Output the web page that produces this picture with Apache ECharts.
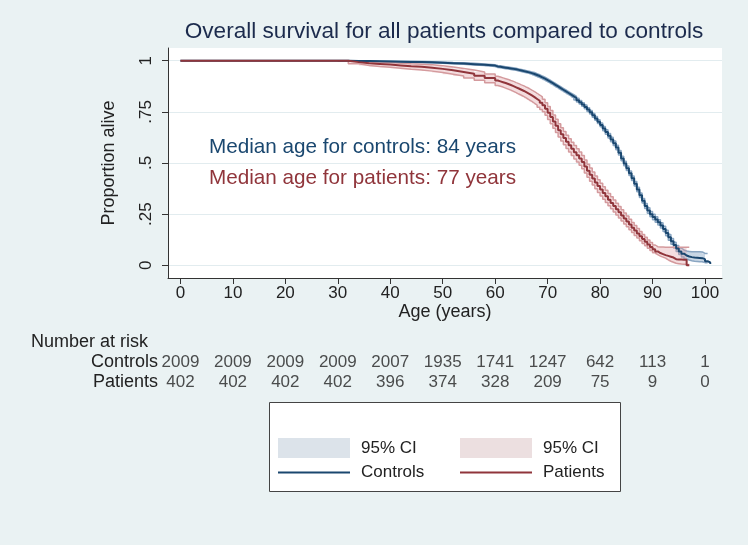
<!DOCTYPE html>
<html>
<head>
<meta charset="utf-8">
<script src="https://cdn.jsdelivr.net/npm/echarts@6/dist/echarts.min.js"></script>
<style>
html,body{margin:0;padding:0;background:#eaf2f3;}
#chart{width:748px;height:545px;}
</style>
</head>
<body>
<div id="chart"></div>
<script>
// ---------------- data ----------------
const ages = [0,30,32,34,36,38,40,42,44,46,48,50,52,54,56,58,
  60,60.5,61,61.5,62,62.5,63,63.5,64,64.5,65,65.5,66,66.5,67,67.5,68,68.5,69,69.5,
  70,70.5,71,71.5,72,72.5,73,73.5,74,74.5,75,75.5,76,76.5,77,77.5,78,78.5,79,79.5,
  80,80.5,81,81.5,82,82.5,83,83.5,84,84.5,85,85.5,86,86.5,87,87.5,88,88.5,89,89.5,
  90,90.5,91,91.5,92,92.5,93,93.5,94,94.5,95,95.5,96,96.5,97,97.5,98,98.5,99,99.5,
  100,100.5,101];

const controlsSurv = [1,1,0.999,0.998,0.997,0.996,0.995,0.994,0.993,0.992,0.990,0.988,0.986,0.983,0.980,0.976,
  0.972,0.970,0.968,0.966,0.964,0.962,0.960,0.958,0.955,0.952,0.949,0.946,0.943,0.939,0.935,0.930,0.925,0.918,0.912,0.905,
  0.898,0.890,0.882,0.874,0.866,0.858,0.850,0.842,0.834,0.826,0.817,0.807,0.797,0.786,0.774,0.761,0.748,0.733,0.718,0.702,
  0.686,0.668,0.651,0.633,0.615,0.596,0.576,0.550,0.522,0.497,0.474,0.450,0.425,0.398,0.371,0.343,0.315,0.290,0.268,0.250,
  0.236,0.224,0.210,0.195,0.178,0.158,0.137,0.117,0.099,0.082,0.068,0.057,0.048,0.043,0.040,0.038,0.037,0.036,0.035,0.030,
  0.020,0.014,0.006];
const controlsLow = [null,1,0.998,0.996,0.995,0.994,0.993,0.991,0.990,0.989,0.987,0.985,0.982,0.979,0.976,0.972,
  0.967,0.965,0.963,0.961,0.959,0.957,0.955,0.953,0.950,0.947,0.944,0.941,0.938,0.933,0.928,0.923,0.918,0.911,0.905,0.898,
  0.891,0.883,0.875,0.867,0.859,0.851,0.843,0.835,0.827,0.818,0.808,0.798,0.788,0.777,0.765,0.752,0.739,0.724,0.709,0.693,
  0.677,0.658,0.640,0.622,0.604,0.585,0.565,0.539,0.511,0.486,0.463,0.439,0.414,0.387,0.360,0.332,0.304,0.278,0.255,0.237,
  0.223,0.211,0.197,0.182,0.165,0.145,0.123,0.103,0.085,0.068,0.053,0.041,0.031,0.026,0.022,0.020,0.019,0.018,0.017,0.013,
  0.013,null,null];
const controlsHigh = [null,1,1.000,1.000,0.999,0.998,0.997,0.997,0.996,0.995,0.993,0.991,0.990,0.987,0.984,0.980,
  0.977,0.975,0.973,0.971,0.969,0.967,0.965,0.963,0.960,0.957,0.954,0.951,0.948,0.945,0.942,0.937,0.932,0.925,0.919,0.912,
  0.905,0.897,0.889,0.881,0.873,0.865,0.857,0.849,0.841,0.834,0.826,0.816,0.806,0.795,0.783,0.770,0.757,0.742,0.727,0.711,
  0.695,0.678,0.662,0.644,0.626,0.607,0.587,0.561,0.533,0.508,0.485,0.461,0.436,0.409,0.382,0.354,0.326,0.302,0.281,0.263,
  0.249,0.237,0.223,0.208,0.191,0.171,0.151,0.131,0.113,0.097,0.084,0.075,0.070,0.068,0.066,0.066,0.066,0.066,0.065,0.058,
  0.058,null,null];

const patientsSurv = [1,1,0.993,0.987,0.984,0.981,0.977,0.973,0.970,0.966,0.960,0.953,0.945,0.936,0.926,0.915,
  0.903,0.899,0.895,0.891,0.886,0.881,0.876,0.870,0.864,0.858,0.852,0.845,0.838,0.830,0.822,0.813,0.804,0.794,0.782,0.765,
  0.745,0.725,0.703,0.682,0.660,0.640,0.622,0.604,0.587,0.570,0.553,0.538,0.522,0.505,0.483,0.462,0.443,0.424,0.405,0.387,
  0.370,0.353,0.337,0.321,0.305,0.290,0.274,0.259,0.244,0.229,0.214,0.199,0.184,0.170,0.156,0.142,0.128,0.115,0.102,0.090,
  0.078,0.068,0.060,0.055,0.050,0.046,0.042,0.038,0.030,0.029,0.028,0.027,0.027,0.000,null,null,null,null,null,null,
  null,null,null];
const patientsLow = [null,1,0.985,0.977,0.972,0.968,0.963,0.958,0.954,0.949,0.942,0.934,0.925,0.915,0.904,0.892,
  0.879,0.875,0.871,0.866,0.861,0.856,0.850,0.844,0.837,0.831,0.824,0.817,0.809,0.801,0.792,0.783,0.773,0.762,0.750,0.733,
  0.712,0.692,0.670,0.649,0.627,0.607,0.589,0.571,0.554,0.537,0.520,0.505,0.489,0.472,0.451,0.430,0.411,0.392,0.374,0.356,
  0.339,0.323,0.307,0.291,0.276,0.261,0.246,0.231,0.217,0.202,0.188,0.174,0.160,0.146,0.133,0.120,0.107,0.095,0.083,0.072,
  0.061,0.052,0.045,0.040,0.035,0.027,0.020,0.015,0.010,0.008,0.006,0.005,0.004,0.004,null,null,null,null,null,null,
  null,null,null];
const patientsHigh = [null,1,1.000,0.995,0.993,0.991,0.988,0.985,0.983,0.980,0.975,0.969,0.962,0.954,0.945,0.935,
  0.924,0.920,0.916,0.912,0.908,0.903,0.899,0.893,0.888,0.882,0.877,0.870,0.864,0.856,0.849,0.840,0.832,0.823,0.811,0.795,
  0.776,0.756,0.735,0.714,0.692,0.672,0.654,0.636,0.619,0.602,0.585,0.570,0.554,0.537,0.515,0.494,0.475,0.456,0.436,0.418,
  0.401,0.384,0.367,0.351,0.335,0.319,0.303,0.288,0.272,0.256,0.241,0.225,0.209,0.194,0.180,0.165,0.151,0.137,0.124,0.111,
  0.099,0.091,0.090,0.090,0.088,0.088,0.088,0.088,0.088,0.088,0.088,0.088,0.088,0.088,null,null,null,null,null,null,
  null,null,null];

const riskAges = [0,10,20,30,40,50,60,70,80,90,100];
const riskControls = [2009,2009,2009,2009,2007,1935,1741,1247,642,113,1];
const riskPatients = [402,402,402,402,396,374,328,209,75,9,0];
const riskRows = ['Controls','Patients'];

const xTicks = [0,10,20,30,40,50,60,70,80,90,100];
const yTicks = [0,0.25,0.5,0.75,1];
const yTickLabels = ['0','.25','.5','.75','1'];

// ---------------- build ----------------
const FONT = '"Liberation Sans", Arial, Helvetica, sans-serif';
function pairs(xs, ys){ return xs.map((x,i)=>[x, ys[i]]); }
function bandRows(xs, lo, hi){
  const r = [];
  xs.forEach((x,i)=>{ if(lo[i]!=null && hi[i]!=null) r.push([x, lo[i], hi[i]]); });
  return r;
}

const C_BLUE = '#1a476f', C_RED = '#90353b';
const BAND_BLUE_EDGE = '#8aa6c2', BAND_BLUE_FILL = 'rgba(120,155,190,0.40)';
const BAND_RED_EDGE = '#d49a9d', BAND_RED_FILL = 'rgba(220,150,155,0.32)';

// band polygon (step "end" shape) drawn once through the axis scales
function bandRenderer(fill){
  return function(params, api){
    if (params.dataIndex !== 0) return null;
    const rows = params.context.rows;
    const pts = [];
    for (let i = 0; i < rows.length; i++){
      pts.push(api.coord([rows[i][0], rows[i][2]]));
      if (i < rows.length - 1) pts.push(api.coord([rows[i+1][0], rows[i][2]]));
    }
    for (let i = rows.length - 1; i >= 0; i--){
      if (i < rows.length - 1) pts.push(api.coord([rows[i+1][0], rows[i][1]]));
      pts.push(api.coord([rows[i][0], rows[i][1]]));
    }
    return {type: 'polygon', shape: {points: pts}, style: {fill: fill}, silent: true};
  };
}
const bandC = bandRows(ages, controlsLow, controlsHigh);
const bandP = bandRows(ages, patientsLow, patientsHigh);
function customBand(name, rows, fill, z){
  const r = bandRenderer(fill);
  return {name: name, type: 'custom', silent: true, clip: true, z: z,
    data: rows, encode: {x: 0, y: [1, 2]},
    itemStyle: {color: fill},
    renderItem: function(params, api){ params.context.rows = rows; return r(params, api); }};
}
function edge(name, xs, ys, color, z){
  return {name: name, type: 'line', step: 'end', symbol: 'none', silent: true, z: z,
    data: pairs(xs, ys), lineStyle: {color: color, width: 1.5}, itemStyle: {color: color}};
}

const riskData = [];
riskAges.forEach((a,i)=>{ riskData.push([a, 0, riskControls[i]]); riskData.push([a, 1, riskPatients[i]]); });

const chart = echarts.init(document.getElementById('chart'), null, {renderer:'canvas'});
const option = {
  backgroundColor: '#eaf2f3',
  textStyle: {fontFamily: FONT},
  animation: false,
  title: {
    text: 'Overall survival for all patients compared to controls',
    left: 444, top: 20, textAlign: 'center', padding: 0,
    textStyle: {fontFamily: FONT, fontSize: 22.6, fontWeight: 'normal', color: '#1c2b4d'}
  },
  grid: [
    {left: 168, right: 26, top: 48, height: 230, show: true, backgroundColor: '#ffffff', borderWidth: 0},
    {left: 168, right: 26, top: 352, height: 40, show: false}
  ],
  xAxis: [
    {type: 'value', gridIndex: 0, min: -2.37, max: 103.24,
     name: 'Age (years)', nameLocation: 'middle', nameGap: 25,
     nameTextStyle: {fontFamily: FONT, fontSize: 18, color: '#222'},
     axisLine: {show: true, onZero: false, lineStyle: {color: '#333', width: 1}},
     axisTick: {show: true, length: 6, customValues: xTicks, lineStyle: {color: '#333'}},
     axisLabel: {customValues: xTicks, fontSize: 17, color: '#222', margin: 7, fontFamily: FONT},
     splitLine: {show: false}},
    {type: 'value', gridIndex: 1, min: -2.37, max: 103.24, show: false}
  ],
  yAxis: [
    {type: 'value', gridIndex: 0, min: -0.062, max: 1.062,
     name: 'Proportion alive', nameLocation: 'middle', nameGap: 50, nameRotate: 90,
     nameTextStyle: {fontFamily: FONT, fontSize: 18, color: '#222'},
     axisLine: {show: true, onZero: false, lineStyle: {color: '#333', width: 1}},
     axisTick: {show: true, length: 6, customValues: yTicks, lineStyle: {color: '#333'}},
     axisLabel: {customValues: yTicks, rotate: 90, fontSize: 17, color: '#222', margin: 13, fontFamily: FONT,
       formatter: v => { const i = yTicks.findIndex(t => Math.abs(t - v) < 1e-9); return i >= 0 ? yTickLabels[i] : ''; }},
     splitLine: {show: true, lineStyle: {color: '#e2ecef', width: 1}}},
    {type: 'category', gridIndex: 1, data: riskRows, inverse: true,
     axisLine: {show: false}, axisTick: {show: false}, splitLine: {show: false},
     axisLabel: {interval: 0, fontSize: 18, color: '#222', margin: 10, fontFamily: FONT}}
  ],
  legend: [
    {orient: 'vertical', left: 277, top: 438, padding: 0, itemWidth: 72, itemHeight: 20, itemGap: 6,
     selectedMode: false,
     formatter: n => n.indexOf('CI') === 0 ? '95% CI' : n,
     textStyle: {fontFamily: FONT, fontSize: 17, color: '#222', padding: [0,0,0,6]},
     data: [{name: 'CI Controls', icon: 'rect', itemStyle: {color: '#dce3ea', borderWidth: 0}},
            {name: 'Controls', itemStyle: {opacity: 0}}]},
    {orient: 'vertical', left: 459, top: 438, padding: 0, itemWidth: 72, itemHeight: 20, itemGap: 6,
     selectedMode: false,
     formatter: n => n.indexOf('CI') === 0 ? '95% CI' : n,
     textStyle: {fontFamily: FONT, fontSize: 17, color: '#222', padding: [0,0,0,6]},
     data: [{name: 'CI Patients', icon: 'rect', itemStyle: {color: '#ecdfe0', borderWidth: 0}},
            {name: 'Patients', itemStyle: {opacity: 0}}]}
  ],
  graphic: [
    {type: 'rect', z: 1, shape: {x: 269.5, y: 402.5, width: 351, height: 89},
     style: {fill: '#ffffff', stroke: '#444', lineWidth: 1}},
    {type: 'text', x: 31, y: 342, z: 10,
     style: {text: 'Number at risk', font: '18px ' + FONT, fill: '#222', verticalAlign: 'middle'}},
    {type: 'text', x: 209, y: 147, z: 10,
     style: {text: 'Median age for controls: 84 years', font: '20.7px ' + FONT, fill: C_BLUE, verticalAlign: 'middle'}},
    {type: 'text', x: 209, y: 178, z: 10,
     style: {text: 'Median age for patients: 77 years', font: '20.7px ' + FONT, fill: C_RED, verticalAlign: 'middle'}}
  ],
  series: [
    customBand('CI Controls', bandC, BAND_BLUE_FILL, 2),
    edge('loControls', ages, controlsLow, BAND_BLUE_EDGE, 2),
    edge('hiControls', ages, controlsHigh, BAND_BLUE_EDGE, 2),
    customBand('CI Patients', bandP, BAND_RED_FILL, 3),
    edge('loPatients', ages, patientsLow, BAND_RED_EDGE, 3),
    edge('hiPatients', ages, patientsHigh, BAND_RED_EDGE, 3),
    {name: 'Controls', type: 'line', step: 'end', symbol: 'none', silent: true,
     data: pairs(ages, controlsSurv), lineStyle: {color: C_BLUE, width: 2}, itemStyle: {color: C_BLUE}, z: 4},
    {name: 'Patients', type: 'line', step: 'end', symbol: 'none', silent: true,
     data: pairs(ages, patientsSurv), lineStyle: {color: C_RED, width: 2}, itemStyle: {color: C_RED}, z: 5},
    {name: 'Number at risk', type: 'scatter', xAxisIndex: 1, yAxisIndex: 1, symbolSize: 0, silent: true,
     data: riskData,
     label: {show: true, position: 'inside', formatter: p => String(p.value[2]),
             fontFamily: FONT, fontSize: 17, color: '#222'}}
  ]
};
chart.setOption(option);
</script>
</body>
</html>
